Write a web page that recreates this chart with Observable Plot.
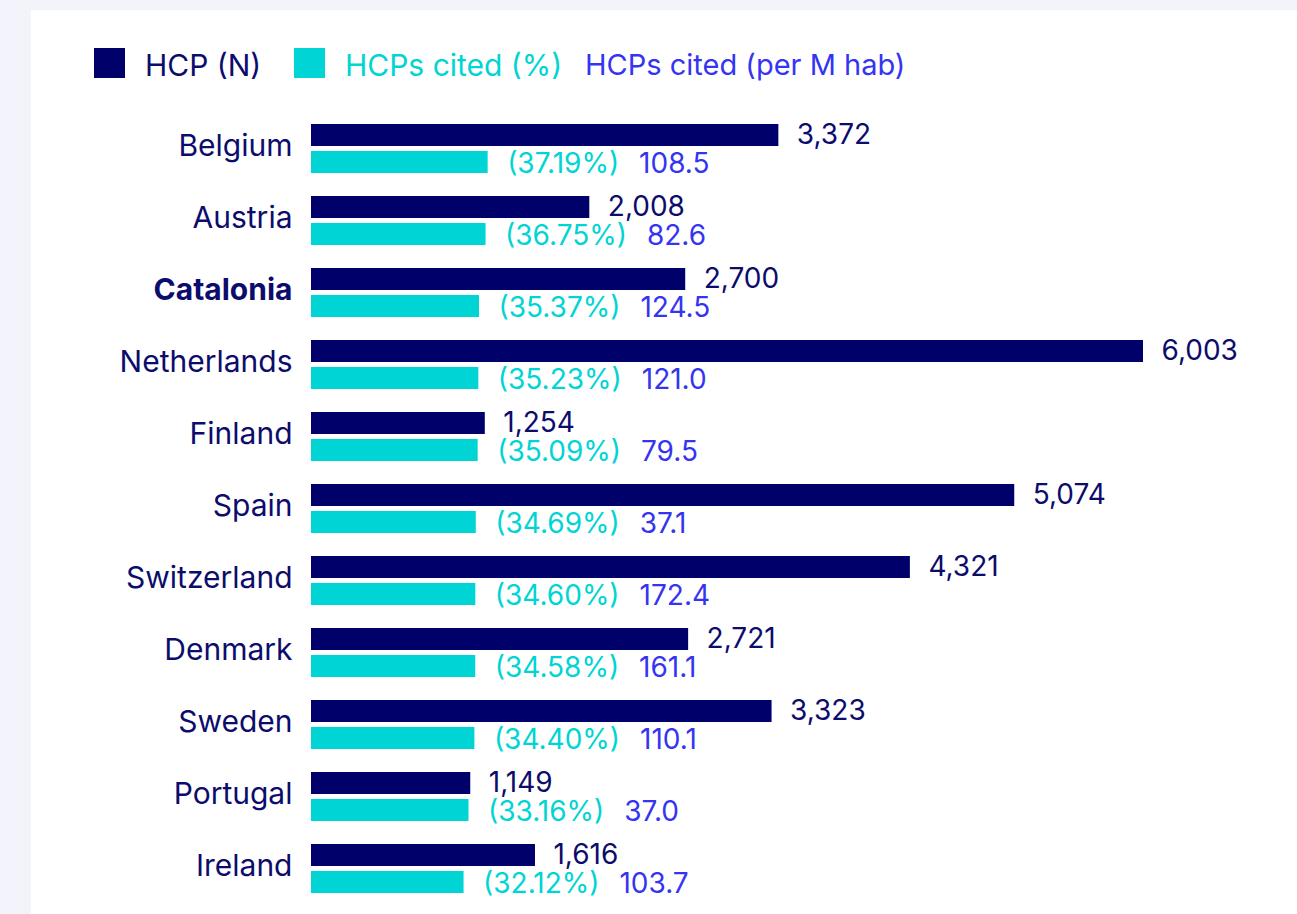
<!DOCTYPE html>
<html>
<head>
<meta charset="utf-8">
<script src="https://cdn.jsdelivr.net/npm/d3@7"></script>
<script src="https://cdn.jsdelivr.net/npm/@observablehq/plot@0.6"></script>
<style>
  html, body { margin: 0; padding: 0; }
  body { width: 1297px; height: 914px; background: #f3f3fc; position: relative; overflow: hidden; font-family: Inter, "Noto Sans", sans-serif; }
  #panel { position: absolute; left: 31px; top: 10px; right: 0; bottom: -20px; background: #ffffff; }
  .sw { position: absolute; top: 48px; width: 31px; height: 30px; }
  .lt { position: absolute; top: 47px; height: 36px; line-height: 36px; font-size: 30px; white-space: nowrap; }
  #chart { position: absolute; left: 0; top: 0; }
</style>
</head>
<body>
<div id="panel"></div>
<div id="legend"></div>
<div id="chart"></div>
<script>
const countries = ["Belgium", "Austria", "Catalonia", "Netherlands", "Finland", "Spain", "Switzerland", "Denmark", "Sweden", "Portugal", "Ireland"];
const hcpN = [3372, 2008, 2700, 6003, 1254, 5074, 4321, 2721, 3323, 1149, 1616];
const citedPct = [37.19, 36.75, 35.37, 35.23, 35.09, 34.69, 34.60, 34.58, 34.40, 33.16, 32.12];
const citedPerM = [108.5, 82.6, 124.5, 121.0, 79.5, 37.1, 172.4, 161.1, 110.1, 37.0, 103.7];
const highlight = "Catalonia";
const seriesLabels = ["HCP (N)", "HCPs cited (%)", "HCPs cited (per M hab)"];

const NAVY = "#00006b";
const CYAN = "#00d4d4";
const BLUE = "#3434f2";
const TEXT_NAVY = "#0c0c6c";

const rows = countries.map((c, i) => ({country: c, n: hcpN[i], pct: citedPct[i], perM: citedPerM[i]}));

// legend (HTML, above the chart area)
const legend = document.getElementById("legend");
const legendItems = [
  {label: seriesLabels[0], swatch: NAVY, color: TEXT_NAVY, sx: 94, tx: 145, size: 30},
  {label: seriesLabels[1], swatch: CYAN, color: CYAN, sx: 294, tx: 345, size: 30},
  {label: seriesLabels[2], swatch: null, color: BLUE, sx: null, tx: 585, size: 29}
];
legendItems.forEach(it => {
  if (it.swatch) {
    const s = document.createElement("div");
    s.className = "sw"; s.style.left = it.sx + "px"; s.style.background = it.swatch;
    legend.appendChild(s);
  }
  const t = document.createElement("div");
  t.className = "lt"; t.style.left = it.tx + "px"; t.style.color = it.color; t.style.fontSize = it.size + "px"; t.textContent = it.label;
  legend.appendChild(t);
});

const W = 1297, H = 914;
const ML = 311, MR = 154;
const PCT_SCALE = 34.27; // cyan bars drawn on their own proportional length
const BAR = 22;
const BW = 49;
const numFont = {fontFamily: "Inter, 'Noto Sans', sans-serif", fontSize: 28};
const lblFont = {fontFamily: "Inter, 'Noto Sans', sans-serif", fontSize: 30};

// measure the percentage label so the per-million value follows it
const ctx = document.createElement("canvas").getContext("2d");
ctx.font = "28px Inter";
const pctLabel = d => `(${d.pct.toFixed(2)}%)`;
const xMax = d3.max(hcpN);
const pxPerUnit = (W - ML - MR) / xMax;
const permX = d => d.pct * PCT_SCALE + (19 + ctx.measureText(pctLabel(d)).width + 20) / pxPerUnit;

const plot = Plot.plot({
  width: W,
  height: H,
  marginLeft: ML,
  marginRight: MR,
  marginTop: 114.76,
  marginBottom: 11.76,
  style: {background: "transparent", overflow: "visible"},
  x: {domain: [0, xMax], axis: null},
  y: {domain: countries, paddingInner: 0.3232, paddingOuter: 0.1, axis: null},
  marks: [
    Plot.barX(rows, {y: "country", x: "n", fill: NAVY, insetBottom: BW - BAR}),
    Plot.barX(rows, {y: "country", x: d => d.pct * PCT_SCALE, fill: CYAN, insetTop: BW - BAR}),
    Plot.text(rows, {y: "country", x: "n", text: d => d3.format(",")(d.n), textAnchor: "start", dx: 18, dy: -14, fill: TEXT_NAVY, ...numFont}),
    Plot.text(rows, {y: "country", x: d => d.pct * PCT_SCALE, text: pctLabel, textAnchor: "start", dx: 19, dy: 15, fill: CYAN, ...numFont}),
    Plot.text(rows, {y: "country", x: permX, text: d => d.perM.toFixed(1), textAnchor: "start", dy: 15, fill: BLUE, ...numFont}),
    Plot.text(rows.filter(d => d.country !== highlight), {y: "country", x: 0, text: "country", textAnchor: "end", dx: -19, dy: -3, fill: TEXT_NAVY, ...lblFont}),
    Plot.text(rows.filter(d => d.country === highlight), {y: "country", x: 0, text: "country", textAnchor: "end", dx: -19, dy: -3, fill: TEXT_NAVY, fontWeight: "bold", ...lblFont})
  ]
});
document.getElementById("chart").appendChild(plot);
</script>
</body>
</html>
